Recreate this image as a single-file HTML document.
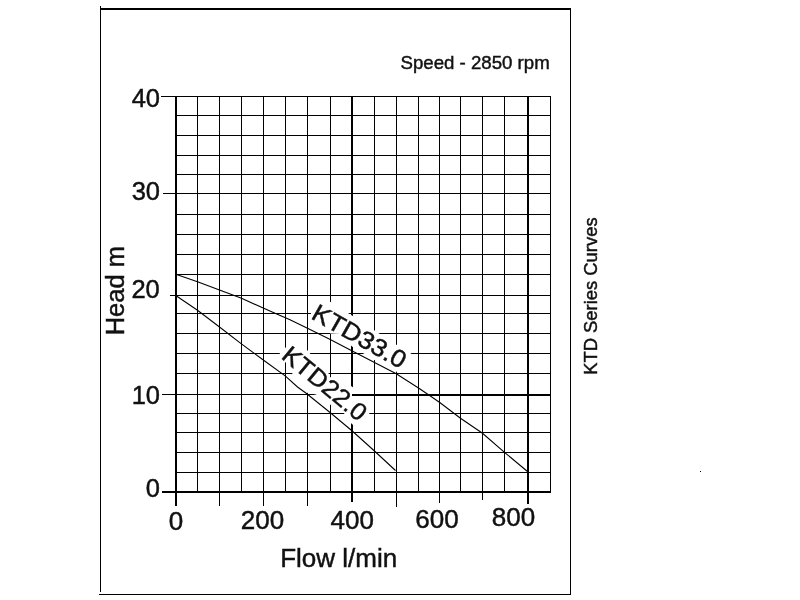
<!DOCTYPE html>
<html><head><meta charset="utf-8"><title>KTD Series Curves</title>
<style>
html,body{margin:0;padding:0;background:#fff;}
body{width:800px;height:600px;overflow:hidden;font-family:"Liberation Sans",Arial,sans-serif;}
svg{display:block}
text{font-family:"Liberation Sans",Arial,sans-serif;fill:#111;stroke:#111;stroke-width:0.45px;}
</style></head><body>
<svg width="800" height="600" viewBox="0 0 800 600">
<rect width="800" height="600" fill="#fff"/>
<g shape-rendering="crispEdges">
<rect x="100" y="8" width="471" height="2" fill="#000"/>
<rect x="100" y="6" width="1" height="586" fill="#000"/>
<rect x="570" y="8" width="1" height="587" fill="#000"/>
<rect x="99" y="594" width="472" height="1" fill="#000"/>
<rect x="197" y="96" width="1" height="397" fill="#000"/>
<rect x="219" y="96" width="1" height="397" fill="#000"/>
<rect x="241" y="96" width="1" height="397" fill="#000"/>
<rect x="263" y="96" width="1" height="397" fill="#000"/>
<rect x="285" y="96" width="1" height="397" fill="#000"/>
<rect x="307" y="96" width="1" height="397" fill="#000"/>
<rect x="330" y="96" width="1" height="397" fill="#000"/>
<rect x="374" y="96" width="1" height="397" fill="#000"/>
<rect x="396" y="96" width="1" height="397" fill="#000"/>
<rect x="418" y="96" width="1" height="397" fill="#000"/>
<rect x="439" y="96" width="1" height="397" fill="#000"/>
<rect x="460" y="96" width="1" height="397" fill="#000"/>
<rect x="482" y="96" width="1" height="397" fill="#000"/>
<rect x="504" y="96" width="1" height="397" fill="#000"/>
<rect x="550" y="96" width="1" height="397" fill="#000"/>
<rect x="175" y="96" width="2" height="397" fill="#000"/>
<rect x="351" y="96" width="2" height="397" fill="#000"/>
<rect x="527" y="96" width="2" height="397" fill="#000"/>
<rect x="175" y="96" width="376" height="1" fill="#000"/>
<rect x="175" y="115" width="376" height="1" fill="#000"/>
<rect x="175" y="135" width="376" height="1" fill="#000"/>
<rect x="175" y="155" width="376" height="1" fill="#000"/>
<rect x="175" y="174" width="376" height="1" fill="#000"/>
<rect x="175" y="193" width="376" height="1" fill="#000"/>
<rect x="175" y="214" width="376" height="1" fill="#000"/>
<rect x="175" y="234" width="376" height="1" fill="#000"/>
<rect x="175" y="254" width="376" height="1" fill="#000"/>
<rect x="175" y="274" width="376" height="1" fill="#000"/>
<rect x="175" y="295" width="376" height="1" fill="#000"/>
<rect x="175" y="313" width="376" height="1" fill="#000"/>
<rect x="175" y="333" width="376" height="1" fill="#000"/>
<rect x="175" y="353" width="376" height="1" fill="#000"/>
<rect x="175" y="373" width="376" height="1" fill="#000"/>
<rect x="175" y="394" width="376" height="1" fill="#000"/>
<rect x="175" y="413" width="376" height="1" fill="#000"/>
<rect x="175" y="432" width="376" height="1" fill="#000"/>
<rect x="175" y="452" width="376" height="1" fill="#000"/>
<rect x="175" y="472" width="376" height="1" fill="#000"/>
<rect x="162" y="491" width="389" height="2" fill="#000"/>
<rect x="161" y="96" width="14" height="1" fill="#000"/>
<rect x="163" y="193" width="12" height="1" fill="#000"/>
<rect x="170" y="295" width="6" height="1" fill="#000"/>
<rect x="162" y="394" width="13" height="1" fill="#000"/>
<rect x="175" y="493" width="2" height="13" fill="#000"/>
<rect x="219" y="493" width="1" height="13" fill="#000"/>
<rect x="263" y="493" width="1" height="13" fill="#000"/>
<rect x="307" y="493" width="1" height="13" fill="#000"/>
<rect x="396" y="493" width="1" height="14" fill="#000"/>
<rect x="439" y="493" width="1" height="10" fill="#000"/>
<rect x="482" y="493" width="1" height="7" fill="#000"/>
<rect x="351" y="493" width="2" height="9" fill="#000"/>
<rect x="527" y="493" width="2" height="11" fill="#000"/>
<rect x="700" y="471" width="1" height="1" fill="#000"/>
</g>
<!-- label masks -->
<g fill="#fff">
<polygon points="311,313 322,296.5 330.5,302 352,315.4 374.5,330.5 396,344.5 411,353.5 413,356.5 399,373 374.5,360 352,346.5 340.5,334 330.5,333.5 309.5,321"/>
<polygon points="279.5,353.7 285.6,347.5 295,341 307.6,350.4 310.25,353.7 328.4,373 330,377 352,386.5 372,406 369.5,413.3 360,428 352,424.25 344,413.3 330,404.5 316,394.5 307.6,393 292,373 285.6,362.5"/>
</g>
<rect x="352" y="394" width="199" height="2" fill="#000" shape-rendering="crispEdges"/>
<g font-size="24.5">
<text transform="translate(311.8,319) rotate(29.5) scale(1.075,1)" x="-1.8" y="0">KTD33.0</text>
<text transform="translate(281.75,359) rotate(39.5) scale(1.05,1)" x="-1.8" y="0">KTD22.0</text>
</g>
<g fill="none" stroke="#000" stroke-width="1.05">
<polyline points="176.5,274.5 197.5,281.75 219.5,290 241.5,298.25 263.75,308.3 275,313.25 290,319.7 308,328.5 329.75,339.3 352.75,351.25 374.5,362.5 396.25,373.75 418.5,388 430,395.8 439.75,402.5 460.5,418.25 482.5,433.25 504.5,452.3 527.5,471.5"/>
<polyline points="176.5,296 197.5,310.25 219.5,327 241.4,343.8 263.3,360 285.5,376.2 297.5,387 306.5,393.5 329.75,412.25 352.25,431 374.75,451.25 395.5,470.5"/>
</g>
<g font-size="25.5" text-anchor="end">
<text x="160" y="106.6">40</text>
<text x="160" y="200.3">30</text>
<text x="159.8" y="298.2">20</text>
<text x="160" y="404.3">10</text>
<text x="160" y="497.4">0</text>
</g>
<g font-size="26" text-anchor="middle">
<text x="176" y="529.7">0</text>
<text x="262.5" y="528.8">200</text>
<text x="352.2" y="529.2">400</text>
<text x="437" y="527.8">600</text>
<text x="513.5" y="526.2">800</text>
</g>
<text font-size="26" x="280.2" y="567">Flow l/min</text>
<text font-size="25.5" transform="translate(124.4,335.3) rotate(-90)">Head m</text>
<text font-size="18.65" x="400.5" y="69.2">Speed - 2850 rpm</text>
<text font-size="18.4" transform="translate(596.5,374.8) rotate(-90)">KTD Series Curves</text>
</svg>
</body></html>
